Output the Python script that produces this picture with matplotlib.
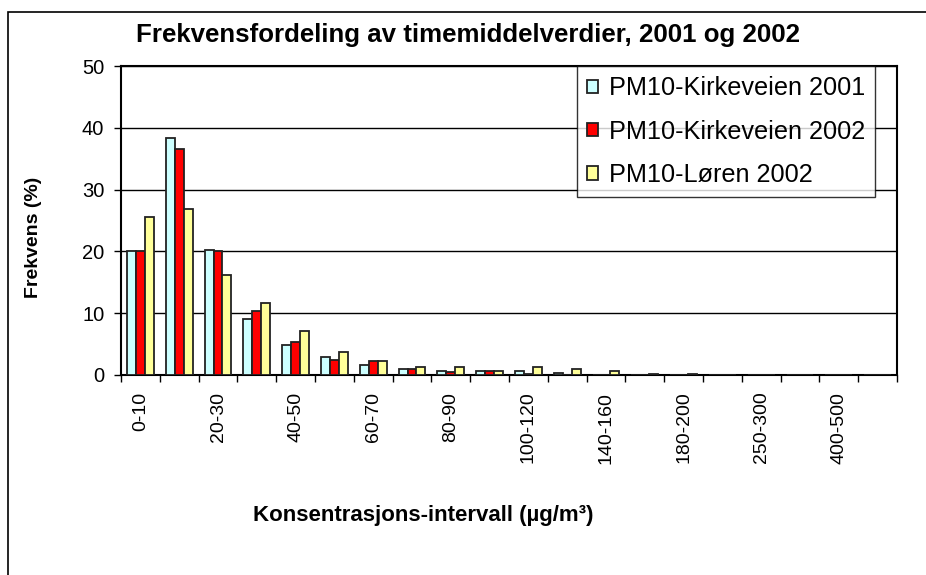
import numpy as np
import matplotlib.pyplot as plt
from matplotlib.patches import Rectangle

# interval categories (ug/m3)
categories = ['0-10', '10-20', '20-30', '30-40', '40-50', '50-60', '60-70', '70-80',
              '80-90', '90-100', '100-120', '120-140', '140-160', '160-180', '180-200',
              '200-250', '250-300', '300-400', '400-500', '>500']

# frequency (%) per series
kirke2001 = [20.0, 38.4, 20.3, 9.1, 4.8, 2.9, 1.6, 0.9, 0.6, 0.6,
             0.6, 0.25, 0.0, 0.0, 0.0, 0.0, 0.0, 0.0, 0.0, 0.0]
kirke2002 = [20.0, 36.5, 20.0, 10.3, 5.4, 2.5, 2.2, 0.9, 0.5, 0.6,
             0.2, 0.05, 0.0, 0.0, 0.0, 0.0, 0.0, 0.0, 0.0, 0.0]
loren2002 = [25.5, 26.8, 16.2, 11.6, 7.1, 3.8, 2.2, 1.25, 1.25, 0.6,
             1.25, 0.9, 0.6, 0.12, 0.12, 0.0, 0.0, 0.0, 0.0, 0.0]

seriesNames = ['PM10-Kirkeveien 2001', 'PM10-Kirkeveien 2002', 'PM10-Løren 2002']
seriesColors = ['#CCFFFF', '#FF0000', '#FFFF99']

plt.rcParams['font.family'] = ['Liberation Sans', 'DejaVu Sans']

fig = plt.figure(figsize=(9.26, 5.75), dpi=100)
ax = fig.add_axes([121/926, 1 - 375/575, (897 - 121)/926, (375 - 66)/575])

x = np.arange(len(categories))
barW = 0.23
for i, (vals, name, col) in enumerate(zip([kirke2001, kirke2002, loren2002], seriesNames, seriesColors)):
    ax.bar(x + (i - 1) * barW, vals, width=barW, color=col, edgecolor='#222222',
           linewidth=1.3, label=name, zorder=3)

ax.set_xlim(-0.5, len(categories) - 0.5)
ax.set_ylim(0, 50)
ax.set_yticks(range(0, 51, 10))
ax.yaxis.grid(True, color='black', linewidth=1.0, zorder=0)
ax.tick_params(axis='y', labelsize=14.5, length=5, width=1, direction='out', pad=7)

# tick marks at category boundaries, labels every other category
ax.set_xticks(np.arange(len(categories) + 1) - 0.5)
ax.set_xticklabels([])
ax.tick_params(axis='x', length=5, width=1, direction='out')
ax.set_xticks(x[::2], minor=True)
ax.set_xticklabels(categories[::2], minor=True, rotation=90, fontsize=14)
ax.tick_params(axis='x', which='minor', length=0, pad=12)

for s in ax.spines.values():
    s.set_linewidth(1.5)
    s.set_color('black')

fig.text(468/926, 1 - 35/575, 'Frekvensfordeling av timemiddelverdier, 2001 og 2002',
         ha='center', va='center', fontsize=18.6, fontweight='bold')
fig.text(34/926, 1 - 237/575, 'Frekvens (%)', rotation=90, ha='center', va='center',
         fontsize=14, fontweight='bold')
fig.text(423/926, 1 - 515/575, 'Konsentrasjons-intervall (µg/m³)', ha='center', va='center',
         fontsize=16, fontweight='bold')

leg = ax.legend(loc='upper left', bbox_to_anchor=(577/926, 1 - 66/575),
                bbox_transform=fig.transFigure, fontsize=18.2, frameon=True, fancybox=False,
                handlelength=0.42, handleheight=0.42, handletextpad=0.45, labelspacing=0.77,
                borderpad=0.4, borderaxespad=0)
leg.get_frame().set_edgecolor('black')
leg.get_frame().set_linewidth(1.0)
leg.set_zorder(5)

# outer chart frame
fig.patches.append(Rectangle((8/926, -0.1), 1.2, 1 - 12/575 + 0.1, transform=fig.transFigure,
                             fill=False, edgecolor='black', linewidth=1.2))

fig.savefig('out.png', dpi=100)
